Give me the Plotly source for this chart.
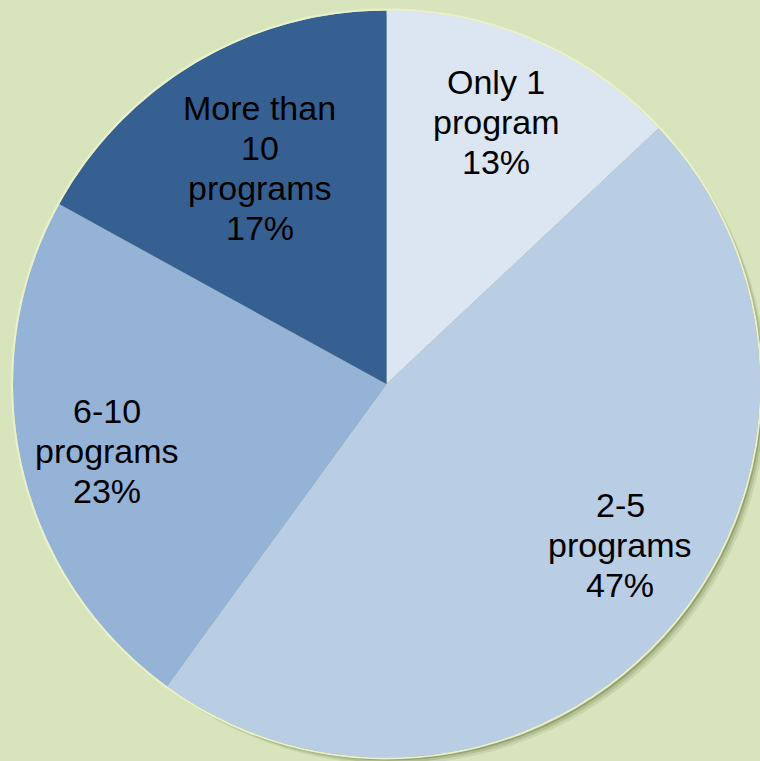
import math
import plotly.graph_objects as go

# Number of programs per respondent (share of total, %)
categories = ["Only 1<br>program", "2-5<br>programs", "6-10<br>programs", "More than<br>10<br>programs"]
shares = [13, 47, 23, 17]
slice_colors = ["#DCE6F2", "#B9CDE5", "#95B3D7", "#376092"]

# Label placement: fraction of radius and angular nudge (degrees) per slice
label_radius = [0.76, 0.76, 0.77, 0.67]
label_nudge = [-0.7, -6.9, -0.8, 0.2]

W, H = 760, 761
BG = "#D8E4BC"
FONT_SIZE = 34
LINE_GAP = 40  # px between text lines

# Pie geometry in pixels
cx, cy, R = 386.5, 384.0, 373.5

fig = go.Figure(
    go.Pie(
        labels=categories,
        values=shares,
        sort=False,
        direction="clockwise",
        rotation=0,
        marker=dict(colors=slice_colors, line=dict(width=0)),
        textinfo="none",
        hoverinfo="label+percent",
        showlegend=False,
        domain=dict(x=[(cx - R) / W, (cx + R) / W], y=[1 - (cy + R) / H, 1 - (cy - R) / H]),
    )
)

def px_to_paper(px, py):
    return px / W, 1 - py / H

def circle(x0p, y0p, x1p, y1p, **kw):
    a0, b0 = px_to_paper(x0p, y0p)
    a1, b1 = px_to_paper(x1p, y1p)
    return dict(type="circle", xref="paper", yref="paper", x0=a0, y0=b1, x1=a1, y1=b0, **kw)

# Soft drop shadow towards the lower right, then a pale rim around the pie
shapes = []
for off, op in [(7, 0.12), (5, 0.2), (3, 0.35)]:
    shapes.append(circle(cx - R + off, cy - R + off, cx + R + off, cy + R + off,
                         fillcolor="#5E6E38", opacity=op, line=dict(width=0), layer="below"))
shapes.append(circle(cx - R - 1, cy - R - 1, cx + R + 1, cy + R + 1,
                     fillcolor="rgba(0,0,0,0)", line=dict(color="#E9F0CC", width=2), layer="above"))

# Labels centred on each slice's mid-angle, one annotation per text line
total = sum(shares)
annotations = []
cum = 0.0
for lab, val, rf, nudge in zip(categories, shares, label_radius, label_nudge):
    mid = (cum + val / 2) / total * 360 + nudge
    cum += val
    a = math.radians(mid)
    px = cx + rf * R * math.sin(a)
    py = cy - rf * R * math.cos(a)
    lines = lab.split("<br>") + [f"{val}%"]
    n = len(lines)
    for i, line in enumerate(lines):
        ly = py + (i - (n - 1) / 2) * LINE_GAP
        x, y = px_to_paper(px, ly)
        annotations.append(dict(
            x=x, y=y, xref="paper", yref="paper",
            text=line, showarrow=False,
            xanchor="center", yanchor="middle", align="center",
            font=dict(family="Liberation Sans, Arial, sans-serif", size=FONT_SIZE, color="#000000"),
        ))

fig.update_layout(
    width=W, height=H,
    margin=dict(l=0, r=0, t=0, b=0),
    paper_bgcolor=BG, plot_bgcolor=BG,
    shapes=shapes,
    annotations=annotations,
)

fig.write_html("out.html")
